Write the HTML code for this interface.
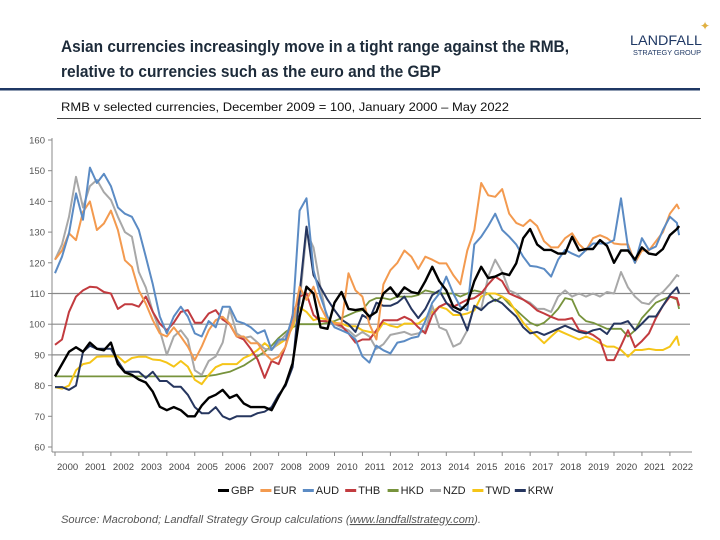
<!DOCTYPE html>
<html><head><meta charset="utf-8"><style>
html,body{margin:0;padding:0;background:#fff;}
svg{display:block;font-family:"Liberation Sans",sans-serif;}
</style></head><body>
<svg id="chart" width="720" height="540" viewBox="0 0 720 540" xmlns="http://www.w3.org/2000/svg">
<text x="61" y="52" font-size="17" font-weight="bold" fill="#1d2b3a" textLength="508" lengthAdjust="spacingAndGlyphs">Asian currencies increasingly move in a tight range against the RMB,</text>
<text x="61" y="77" font-size="17" font-weight="bold" fill="#1d2b3a" textLength="380" lengthAdjust="spacingAndGlyphs">relative to currencies such as the euro and the GBP</text>
<rect x="0" y="88" width="700" height="2.5" fill="#1f3864"/>
<text x="630" y="45" font-size="14" fill="#1f3864" textLength="72" lengthAdjust="spacingAndGlyphs">LANDFALL</text>
<text x="633" y="55" font-size="7" fill="#1f3864" textLength="68" lengthAdjust="spacingAndGlyphs">STRATEGY GROUP</text>
<text x="700" y="30" font-size="12" fill="#e0b040">✦</text>
<text x="61" y="111" font-size="12" fill="#111" textLength="448" lengthAdjust="spacingAndGlyphs">RMB v selected currencies, December 2009 = 100, January 2000 – May 2022</text>
<rect x="57" y="118" width="644" height="1" fill="#444"/>
<g id="plot"></g>
<g id="legend"></g>
<text x="61" y="523" font-size="11" font-style="italic" fill="#555" textLength="420" lengthAdjust="spacingAndGlyphs">Source: Macrobond; Landfall Strategy Group calculations (<tspan text-decoration="underline">www.landfallstrategy.com</tspan>).</text>
</svg>
<script>
const seriesNames = ["GBP","EUR","AUD","THB","HKD","NZD","TWD","KRW"];
const yTicks = [60,70,80,90,100,110,120,130,140,150,160];
const gridValues = [90,100,110];
const yearLabels = ["2000","2001","2002","2003","2004","2005","2006","2007","2008","2009","2010","2011","2012","2013","2014","2015","2016","2017","2018","2019","2020","2021","2022"];
const startYear = 2000;
const lastDate = 2022.33;
const GBP = [83,87,91,92.5, 91,94,92,91.5, 94,87,84.3,83.5, 82,81,78,73.1, 72,73,72,70, 70,73.5,76,77, 78.6,76,77,74.2, 73,73,73,72, 76.4,80.5,87.3,102.4, 112.2,110,99,98.5, 107,110.5,105,104.6,
 105,102.5,104,110, 112,109,112,110.5, 110,114,118.7,114, 111,105.7,104.6,106.7, 114,118.7,115,115.5, 116.6,116,119.8,128, 131,126,124.2,124.2, 123,123,128.5,124, 124.5,124.5,127.4,125.5, 120,124,124,121, 125,123,122.6,124.5, 129,131,132];
const EUR = [121,124,129.6,127.4, 136.6,140,130.7,132.8, 137,130.7,120.8,118.7, 111,106.7,101.3,97, 96,99,96,92.7, 88.3,92.7,98,101.3, 102.4,100.2,96,96, 93.8,93.8,90.5,88.3, 89.4,92.7,100.2,112.2, 107.9,112.2,105.7,101.3, 100.2,100.2,116.6,111,
 109,100,95,113, 117.6,120,124,122, 118,122,121,119.8, 119.8,116,113,124, 130.7,146,142,141.5, 144,136,133,132, 134,132,127,125, 125,128,129.6,126, 124,128,129,128, 126.3,126,126,120, 124,124,127,130, 136,139,137.5];
const AUD = [116.6,122,129.6,142.6, 134,151,146,149, 145,138,136,135, 130.7,122,113,102.5, 97,102.5,105.7,102.5, 97,96,101,99, 105.7,105.7,101,100.3, 99,97,98,91.6, 95,95,102.5,137, 141,117.6,109,102.5, 99,98,97,95,
 89.5,87.5,93,91.5, 90.5,94,94.5,95.5, 96,101,107,110, 115.5,110,105.7,104.6, 126,128.5,132,136, 130.7,128.5,126,122, 119,118.7,118,115.5, 121,124.2,123,122, 124.2,126.3,126.3,126.3, 127.4,141,125,120, 128,124.2,125.3,130.7, 135,133,129];
const THB = [93.3,95,104,109, 111,112.2,112,110.5, 110,105,106.5,106.5, 105.7,109,104,100.2, 98,100.5,104,104.6, 100.5,100.5,103.5,104.6, 101.5,100,96,95, 92,88.5,82.5,88, 87,92.8,103,109, 110,103,101,101, 100.2,99.5,97,94,
 95,95,98,101.3, 101.3,101.3,102.4,101.3, 99,97,103,105.7, 106.8,105.7,106.8,108, 108.5,110,113,115.5, 114,110,109,108, 106.5,104.5,103.5,102.4, 101.5,101.5,102,98, 97.5,96.5,94.9,88.3, 88.3,93,98,92.5, 94.5,97,102,106, 109,108.5,106];
const HKD = [83,83,83,83, 83,83,83,83, 83,83,83,83, 83,83,83,83, 83,83,83,83, 83,83,83.2,83.5, 84,84.5,85.5,86.5, 88,89.5,91,93, 95.5,97.5,99,100, 100,100,100,100.5, 101,102,103,104,
 104.6,107.5,108.5,108.5, 108,109,109,109, 109.5,111,110.5,110, 110,110,109,110, 111,110.5,110,107.5, 109,106.5,104.6,102.5, 100.5,99.5,100.5,102.5, 105,108.5,108,103, 101,100.5,99.5,98.5, 98.5,98.5,96,98, 102,104.5,107,108, 109,108,105];
const NZD = [121,126,135,148, 138,145,147,143, 140.5,135,130,128.5, 117,112,104,98, 90,96,98,95, 85,83.5,88,89.5, 94,105,97,95.5, 96,94,92,91.6, 94,96.5,100,107, 130,125,112,101, 100,99,98,96,
 97.5,96,92,93.5, 96.5,97,97.5,96.5, 97,98,106,99, 98,92.7,93.8,98, 106,105,115.5,121, 117,111,110,108, 107,105,105,104, 109,111,109,110, 109,110,109,110.5, 110,117,112,109, 107,106.5,109,110.5, 113,116,115.5];
const TWD = [79.5,79,80,85, 87,87.5,89.4,89.5, 89.5,89.5,87.5,89, 89.4,89.4,88.5,88.3, 87.5,86.2,88,86.2, 81.9,80.5,83.5,86, 87,87,87,89, 90,91.6,93.8,92, 93.5,95,99,105.5, 104,101.3,102,101.5, 100.5,100.2,99.3,99.3,
 98,97.5,97,100.5, 99.5,99,100.2,100.2, 100.2,102,104,105.7, 105,103,103,103.5, 104.5,109,110,110, 109,107.5,104,100.5, 98,96,93.8,96, 98,97,96,95, 96,95,93.8,92.7, 92.7,91.6,89.4,91.6, 91.6,92,91.6,91.6, 92.7,96,93];
const KRW = [79.5,79.5,78.6,80, 91,93,92,92, 92,88,84.5,84.5, 84.5,82.5,84.5,81.5, 81.5,79.6,79.6,77, 73,71,71,73, 70,69,70,70, 70,71,71.5,73, 77,80,86,110, 131.8,116,112,108, 104.6,101.5,100,97.5,
 103,101.5,107,106, 106,107,109,105, 102,105,109.5,111, 107,104.6,103.5,98, 106,104.6,106.8,108, 106.8,104.6,102.5,99, 97,97.5,96.5,97.5, 98.5,99.5,98.5,97.5, 97,98,98.5,96.8, 100.2,100.2,101,98, 100.2,102.5,102.5,106, 109.5,112,110];
const seriesValues = [GBP,EUR,AUD,THB,HKD,NZD,TWD,KRW];
const seriesColors = ["#000000","#f39a4f","#5b8bc4","#c23b3f","#77933c","#a8a8a8","#f5c518","#26365f"];
const seriesWidths = [2.4,2,2,2,1.8,2,2,2];

const NS="http://www.w3.org/2000/svg";
const X0=55, YEARW=27.95, Y160=140, PXU=3.07;
function xScale(t){return X0+(t-startYear)*YEARW;}
function yScale(v){return Y160+(160-v)*PXU;}
function mk(tag,attrs,parent){const e=document.createElementNS(NS,tag);for(const k in attrs)e.setAttribute(k,attrs[k]);parent.appendChild(e);return e;}
const plot=document.getElementById('plot');
const axisY=452;
gridValues.forEach(v=>{
  const l=mk('line',{x1:52,x2:690,y1:yScale(v),y2:yScale(v),stroke:'#8a8a8a','stroke-width':1.2},plot);
  
  
});
const ya=mk('line',{x1:52,x2:52,y1:Y160-2,y2:axisY,stroke:'#888','stroke-width':1},plot);


yTicks.forEach(v=>{
  const tk=mk('line',{x1:48,x2:52,y1:yScale(v),y2:yScale(v),stroke:'#888'},plot);
  
  
  const t=mk('text',{x:45,y:yScale(v)+3.5,'font-size':9.5,fill:'#555','text-anchor':'end'},plot);
  t.textContent=v;
  
  
});
const xa=mk('line',{x1:52,x2:692,y1:axisY,y2:axisY,stroke:'#888','stroke-width':1},plot);


yearLabels.forEach((lab,i)=>{
  const yr=startYear+i;
  const tk=mk('line',{x1:xScale(yr),x2:xScale(yr),y1:axisY,y2:axisY+4,stroke:'#888'},plot);
  
  
  const t=mk('text',{x:xScale(yr+0.45),y:470,'font-size':9.5,fill:'#444','text-anchor':'middle'},plot);
  t.textContent=lab;
  
  
});
function dateAt(i,n){return i===n-1?lastDate:startYear+i*0.25;}
const drawOrder=[4,6,5,3,7,1,2,0];
drawOrder.forEach(si=>{
  const vals=seriesValues[si];
  const pts=vals.map((v,i)=>xScale(dateAt(i,vals.length)).toFixed(1)+','+yScale(v).toFixed(1)).join(' ');
  const p=mk('polyline',{points:pts,fill:'none',stroke:seriesColors[si],'stroke-width':seriesWidths[si],'stroke-linejoin':'round'},plot);
  
  
});
const leg=document.getElementById('legend');
let lx=218;
seriesNames.forEach((nm,i)=>{
  const g=mk('g',{},leg);
  
  
  mk('rect',{x:lx,y:489,width:11,height:3,fill:seriesColors[i]},g);
  const t=mk('text',{x:lx+13,y:494,'font-size':11,fill:'#222'},g);
  t.textContent=nm;
  lx+=13+nm.length*7.8+6;
});
</script>
</body></html>
